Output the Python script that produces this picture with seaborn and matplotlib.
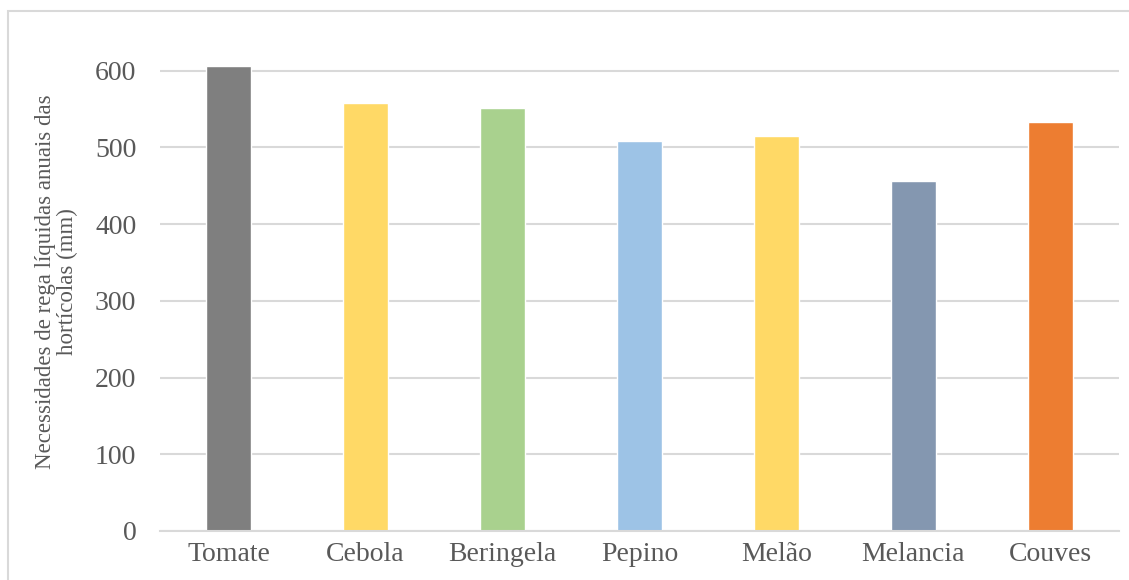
import pandas as pd
import seaborn as sns
import matplotlib.pyplot as plt
from matplotlib.patches import Rectangle

# dados (mm)
culturas = ["Tomate", "Cebola", "Beringela", "Pepino", "Melão", "Melancia", "Couves"]
necessidades = [606, 558, 551, 508, 515, 456, 533]
cores = ["#7f7f7f", "#ffd966", "#a9d18e", "#9dc3e6", "#ffd966", "#8497b0", "#ed7d31"]

df = pd.DataFrame({"cultura": culturas, "valor": necessidades})

sns.set_style("white")
plt.rcParams["font.family"] = ["Liberation Serif", "DejaVu Serif"]

fig = plt.figure(figsize=(11.29, 5.8), dpi=100)
ax = fig.add_axes([0.1417, 0.0845, 0.8493, 0.86])

sns.barplot(data=df, x="cultura", y="valor", hue="cultura", palette=cores,
            width=0.33, legend=False, ax=ax, saturation=1)

ax.set_ylim(0, 650)
ax.set_xlim(-0.5, 6.5)
ax.set_yticks(range(0, 700, 100))
ax.yaxis.grid(True, color="#d9d9d9", linewidth=1.5)
ax.set_axisbelow(True)
for s in ["top", "right", "left"]:
    ax.spines[s].set_visible(False)
ax.spines["bottom"].set_color("#d9d9d9")
ax.spines["bottom"].set_linewidth(1.5)
ax.tick_params(axis="both", length=0, labelsize=20, colors="#595959")
ax.tick_params(axis="x", pad=8)
ax.tick_params(axis="y", pad=17)
ax.set_xlabel("")
ax.set_ylabel("Necessidades de rega líquidas anuais das\nhortícolas (mm)",
              fontsize=16.5, color="#595959", labelpad=12, linespacing=1.05)

# moldura do gráfico
fig.patches.append(Rectangle((0.007, -0.05), 1.05, 1.031, transform=fig.transFigure,
                             fill=False, edgecolor="#d9d9d9", linewidth=1.5))

plt.savefig("out.png", dpi=100)
